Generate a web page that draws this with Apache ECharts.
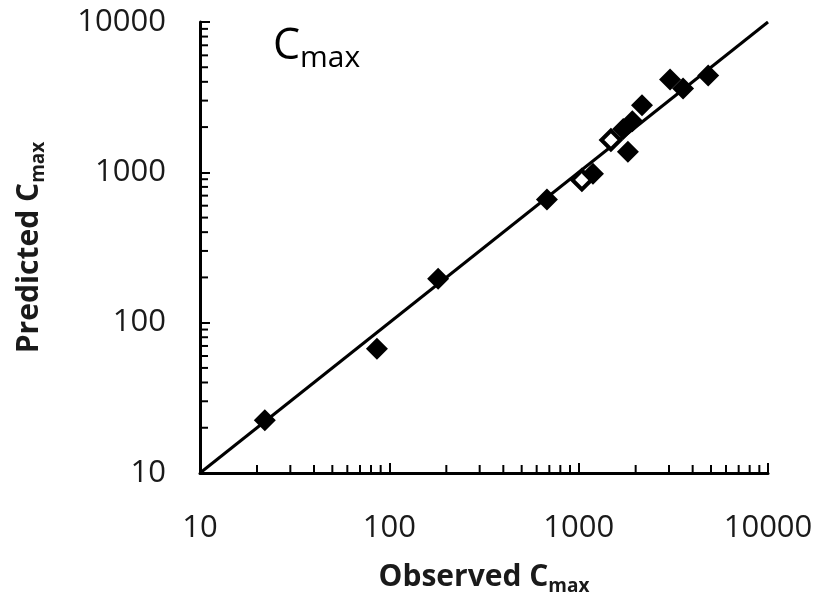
<!DOCTYPE html>
<html>
<head>
<meta charset="utf-8">
<script src="https://cdn.jsdelivr.net/npm/echarts@6/dist/echarts.min.js"></script>
<style>
html,body{margin:0;padding:0;background:#fff;overflow:hidden;}
#chart{width:100vw;height:100vh;}
</style>
</head>
<body>
<div id="chart"></div>
<script>
// Data
var observedFilled  = [22, 86, 181, 680, 1190, 1720, 1820, 1920, 2160, 3040, 3560, 4830];
var predictedFilled = [22.4, 67, 196, 660, 980, 1940, 1370, 2190, 2790, 4140, 3610, 4400];
var observedOpen    = [1040, 1480];
var predictedOpen   = [890, 1640];
var identityLine    = [10, 10000];
var axisMin = 10, axisMax = 10000;
var minorTickValues = [20,30,40,50,60,70,80,90,200,300,400,500,600,700,800,900,2000,3000,4000,5000,6000,7000,8000,9000];

var filledData = observedFilled.map(function(v,i){return [v, predictedFilled[i]];});
var openData = observedOpen.map(function(v,i){return [v, predictedOpen[i]];});
var lineData = identityLine.map(function(v){return [v, v];});

var FONT = 'Open Sans';
var chart = echarts.init(document.getElementById('chart'));
var H = document.getElementById('chart').clientHeight || 601;
var gridBottom = H - 477;

function axisCommon(){
  return {
    type:'log', logBase:10, min:axisMin, max:axisMax,
    axisLine:{show:true, lineStyle:{color:'#000', width:3}},
    axisTick:{show:true, inside:true, length:10, lineStyle:{color:'#000', width:2}},
    splitLine:{show:false},
    minorTick:{show:false},
    axisLabel:{color:'#1a1a1a', fontFamily:FONT, fontSize:31,
      formatter:function(v){return String(Math.round(v));}}
  };
}
var xAx = axisCommon();
xAx.axisLabel.margin = 40;
xAx.name = '{a|Observed C}{b|max}';
xAx.nameLocation = 'middle';
xAx.nameGap = 86;
xAx.nameTextStyle = {color:'#1a1a1a', fontFamily:FONT, rich:{
  a:{fontSize:30, fontWeight:'bold', fontFamily:FONT, color:'#1a1a1a'},
  b:{fontSize:19, fontWeight:'bold', fontFamily:FONT, color:'#1a1a1a', padding:[18,0,0,0]}
}};
var yAx = axisCommon();
yAx.axisLabel.margin = 34;
yAx.name = '{a|Predicted C}{b|max}';
yAx.nameLocation = 'middle';
yAx.nameGap = 152;
yAx.nameTextStyle = {color:'#1a1a1a', fontFamily:FONT, rich:{
  a:{fontSize:30, fontWeight:'bold', fontFamily:FONT, color:'#1a1a1a'},
  b:{fontSize:19, fontWeight:'bold', fontFamily:FONT, color:'#1a1a1a', padding:[18,0,0,0]}
}};

chart.setOption({
  animation:false,
  backgroundColor:'#fff',
  title:{
    text:'{a|C}{b|max}', left:268, top:16,
    textStyle:{fontWeight:'normal', rich:{
      a:{fontSize:43, fontWeight:'normal', fontFamily:FONT, color:'#000'},
      b:{fontSize:30, fontWeight:'normal', fontFamily:FONT, color:'#000', padding:[22,0,0,0]}
    }}
  },
  grid:{left:200, right:49, top:22, bottom:gridBottom, containLabel:false},
  xAxis:xAx,
  yAxis:yAx,
  series:[
    {type:'line', data:lineData, showSymbol:false, symbol:'none',
     lineStyle:{color:'#000', width:3}, z:2},
    {type:'custom', data:minorTickValues.map(function(v){return [v, axisMin];}), clip:false, z:3,
     renderItem:function(params, api){
       var p = api.coord([api.value(0), api.value(1)]);
       return {type:'line', shape:{x1:p[0], y1:p[1], x2:p[0], y2:p[1]-8}, style:{stroke:'#000', lineWidth:2}};
     }},
    {type:'custom', data:minorTickValues.map(function(v){return [axisMin, v];}), clip:false, z:3,
     renderItem:function(params, api){
       var p = api.coord([api.value(0), api.value(1)]);
       return {type:'line', shape:{x1:p[0], y1:p[1], x2:p[0]+8, y2:p[1]}, style:{stroke:'#000', lineWidth:2}};
     }},
    {type:'scatter', data:openData, symbol:'diamond', symbolSize:19, z:4,
     itemStyle:{color:'#fff', borderColor:'#000', borderWidth:4, opacity:1}},
    {type:'scatter', data:filledData, symbol:'diamond', symbolSize:22, z:5,
     itemStyle:{color:'#000', opacity:1}}
  ]
});
</script>
</body>
</html>
